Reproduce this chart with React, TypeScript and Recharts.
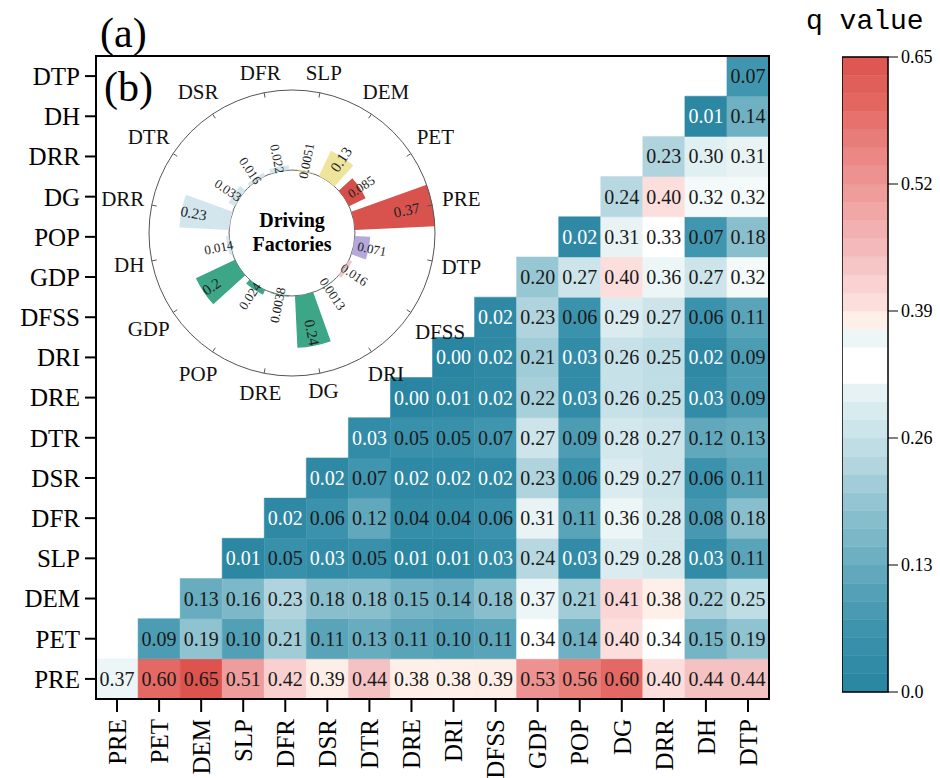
import React from 'react';
import {
  ScatterChart, Scatter, XAxis, YAxis, ReferenceArea,
  RadialBarChart, RadialBar, PolarAngleAxis, PolarRadiusAxis, PolarGrid, Cell, LabelList,
} from 'recharts';

const FONT = '"Liberation Serif", "Times New Roman", serif';
const MONO = '"Liberation Mono", "DejaVu Sans Mono", monospace';

// ---------- heatmap data ----------
const factors = ['PRE', 'PET', 'DEM', 'SLP', 'DFR', 'DSR', 'DTR', 'DRE', 'DRI', 'DFSS', 'GDP', 'POP', 'DG', 'DRR', 'DH', 'DTP'];

// each row starts at its own column (upper triangle), rows listed bottom-up
const rowPRE = [0.37, 0.60, 0.65, 0.51, 0.42, 0.39, 0.44, 0.38, 0.38, 0.39, 0.53, 0.56, 0.60, 0.40, 0.44, 0.44];
const rowPET = [0.09, 0.19, 0.10, 0.21, 0.11, 0.13, 0.11, 0.10, 0.11, 0.34, 0.14, 0.40, 0.34, 0.15, 0.19];
const rowDEM = [0.13, 0.16, 0.23, 0.18, 0.18, 0.15, 0.14, 0.18, 0.37, 0.21, 0.41, 0.38, 0.22, 0.25];
const rowSLP = [0.01, 0.05, 0.03, 0.05, 0.01, 0.01, 0.03, 0.24, 0.03, 0.29, 0.28, 0.03, 0.11];
const rowDFR = [0.02, 0.06, 0.12, 0.04, 0.04, 0.06, 0.31, 0.11, 0.36, 0.28, 0.08, 0.18];
const rowDSR = [0.02, 0.07, 0.02, 0.02, 0.02, 0.23, 0.06, 0.29, 0.27, 0.06, 0.11];
const rowDTR = [0.03, 0.05, 0.05, 0.07, 0.27, 0.09, 0.28, 0.27, 0.12, 0.13];
const rowDRE = [0.00, 0.01, 0.02, 0.22, 0.03, 0.26, 0.25, 0.03, 0.09];
const rowDRI = [0.00, 0.02, 0.21, 0.03, 0.26, 0.25, 0.02, 0.09];
const rowDFSS = [0.02, 0.23, 0.06, 0.29, 0.27, 0.06, 0.11];
const rowGDP = [0.20, 0.27, 0.40, 0.36, 0.27, 0.32];
const rowPOP = [0.02, 0.31, 0.33, 0.07, 0.18];
const rowDG = [0.24, 0.40, 0.32, 0.32];
const rowDRR = [0.23, 0.30, 0.31];
const rowDH = [0.01, 0.14];
const rowDTP = [0.07];
const matrixRows = [rowPRE, rowPET, rowDEM, rowSLP, rowDFR, rowDSR, rowDTR, rowDRE, rowDRI, rowDFSS, rowGDP, rowPOP, rowDG, rowDRR, rowDH, rowDTP];

// ---------- polar inset data (clockwise from top) ----------
const polarNames = ['SLP', 'DEM', 'PET', 'PRE', 'DTP', 'DFSS', 'DRI', 'DG', 'DRE', 'POP', 'GDP', 'DH', 'DRR', 'DTR', 'DSR', 'DFR'];
const polarValues = [0.0051, 0.13, 0.085, 0.37, 0.071, 0.016, 0.0013, 0.24, 0.0038, 0.024, 0.2, 0.014, 0.23, 0.033, 0.016, 0.022];
const polarLabels = ['0.0051', '0.13', '0.085', '0.37', '0.071', '0.016', '0.0013', '0.24', '0.0038', '0.024', '0.2', '0.014', '0.23', '0.033', '0.016', '0.022'];
const polarColors = ['#EEE49B', '#EEE49B', '#D44F4A', '#D8534E', '#B5A8DA', '#F3C6CD', '#3CA687', '#3CA687', '#3CA687', '#3CA687', '#3CA687', '#D3E6EE', '#D3E6EE', '#D3E6EE', '#D3E6EE', '#D3E6EE'];

// ---------- colour bar ----------
const cbTicks = [0, 0.13, 0.26, 0.39, 0.52, 0.65];
const cbMax = 0.65;
const cbBands = 35;

const colorStops: [number, string][] = [
  [0.0, '#2985A1'],
  [0.06, '#3B92AC'],
  [0.1, '#52A0B6'],
  [0.13, '#68ACC0'],
  [0.19, '#8FC3D0'],
  [0.23, '#B0D4DD'],
  [0.27, '#CDE5EA'],
  [0.3, '#E0EFF1'],
  [0.318, '#F0F7F7'],
  [0.325, '#FFFFFF'],
  [0.352, '#FFFFFF'],
  [0.36, '#EDF6F6'],
  [0.372, '#EDF6F6'],
  [0.376, '#FEF1EA'],
  [0.39, '#FEEEE8'],
  [0.4, '#FCDEDC'],
  [0.44, '#F5C2C3'],
  [0.52, '#EE9896'],
  [0.6, '#E46863'],
  [0.65, '#DD534E'],
];

function hexToRgb(h: string) {
  const n = parseInt(h.slice(1), 16);
  return [(n >> 16) & 255, (n >> 8) & 255, n & 255];
}
function qColor(v: number) {
  if (v <= colorStops[0][0]) return colorStops[0][1];
  for (let i = 1; i < colorStops.length; i++) {
    const [v1, c1] = colorStops[i];
    if (v <= v1) {
      const [v0, c0] = colorStops[i - 1];
      const t = (v - v0) / (v1 - v0);
      const a = hexToRgb(c0);
      const b = hexToRgb(c1);
      const m = a.map((x, k) => Math.round(x + (b[k] - x) * t));
      return `rgb(${m[0]},${m[1]},${m[2]})`;
    }
  }
  return colorStops[colorStops.length - 1][1];
}

// ---------- derived structures ----------
type CellDatum = { x: number; y: number; col: number; row: number; v: number };
const cellData: CellDatum[] = [];
matrixRows.forEach((vals, i) => {
  vals.forEach((v, k) => {
    const j = i + k;
    cellData.push({ x: j + 0.5, y: i + 0.5, col: j, row: i, v });
  });
});
const tickPos = factors.map((_, i) => i + 0.5);
const polarData = polarNames.map((name, i) => ({ name, value: polarValues[i], label: polarLabels[i] }));
const bandStep = cbMax / cbBands;
const bands = Array.from({ length: cbBands }, (_, k) => ({ x: 0.5, y: (k + 0.5) * bandStep, y1: k * bandStep, y2: (k + 1) * bandStep }));

// ---------- renderers ----------
const renderXTick = (props: any) => {
  const { x, y, payload } = props;
  return (
    <text x={x} y={y} transform={`rotate(-90 ${x} ${y})`} textAnchor="end" dy="0.35em"
      fontSize={25} fontFamily={FONT} fill="#000">
      {factors[Math.floor(payload.value)]}
    </text>
  );
};

const renderCellText = (props: any) => {
  const { cx, cy, payload } = props;
  const v = payload.v as number;
  return (
    <text x={cx} y={cy} textAnchor="middle" dominantBaseline="central" fontSize={20}
      fontFamily={FONT} fill={v < 0.035 ? '#ffffff' : '#1a1a1a'}>
      {v.toFixed(2)}
    </text>
  );
};

const P_SIZE = 380;
const P_INNER = 63;
const P_OUTER = 143;
const HALF_BAND = 360 / polarNames.length / 2;

const renderAngleTick = (props: any) => {
  const { payload } = props;
  const cx = props.cx ?? P_SIZE / 2;
  const cy = props.cy ?? P_SIZE / 2;
  const r = props.radius ?? P_OUTER;
  // align the tick with the centre of its bar sector
  const a = ((payload.coordinate + HALF_BAND) * Math.PI) / 180;
  const c = Math.cos(a);
  const s = -Math.sin(a);
  const name = String(payload.value);
  const halfW = name.length * 6.8;
  const lr = r + 8 + halfW * Math.abs(c) + 8 * Math.abs(s);
  return (
    <g>
      <line x1={cx + r * c} y1={cy + r * s} x2={cx + (r - 5) * c} y2={cy + (r - 5) * s} stroke="#555" strokeWidth={1} />
      <text x={cx + lr * c} y={cy + lr * s} textAnchor="middle" dominantBaseline="central"
        fontSize={21} fontFamily={FONT} fill="#111">
        {name}
      </text>
    </g>
  );
};

const renderPolarLabel = (props: any) => {
  const { viewBox, index } = props;
  if (!viewBox || viewBox.cx === undefined) return null;
  const { cx, cy, innerRadius, outerRadius, startAngle, endAngle } = viewBox;
  const mid = (startAngle + endAngle) / 2;
  const r = innerRadius + 10 + 0.55 * (outerRadius - innerRadius);
  const a = (mid * Math.PI) / 180;
  const x = cx + r * Math.cos(a);
  const y = cy - r * Math.sin(a);
  let compass = (90 - mid) % 360;
  if (compass < 0) compass += 360;
  const rot = compass < 180 ? compass - 90 : compass - 270;
  const big = polarValues[index] >= 0.1;
  return (
    <text x={x} y={y} transform={`rotate(${rot} ${x} ${y})`} textAnchor="middle" dominantBaseline="central"
      fontSize={big ? 15 : 13} fontFamily={FONT} fill="#222">
      {polarLabels[index]}
    </text>
  );
};

export default function App() {
  return (
    <div style={{ position: 'absolute', left: 0, top: 0, width: 940, height: 778, overflow: 'hidden', background: '#fff' }}>
      {/* (a) heatmap */}
      <div style={{ position: 'absolute', left: 0, top: 0 }}>
        <ScatterChart width={800} height={778} margin={{ top: 56, right: 31, bottom: 0, left: 0 }}>
          <XAxis type="number" dataKey="x" domain={[0, 16]} ticks={tickPos} interval={0} tick={renderXTick}
            tickSize={13} tickMargin={7} height={79} allowDataOverflow
            axisLine={{ stroke: '#000', strokeWidth: 2 }} tickLine={{ stroke: '#000', strokeWidth: 2 }} />
          <YAxis type="number" dataKey="y" domain={[0, 16]} ticks={tickPos} interval={0} width={96}
            tickFormatter={(t: number) => factors[Math.floor(t)]} tickSize={11} tickMargin={5} allowDataOverflow
            tick={{ fontSize: 25, fill: '#000', fontFamily: FONT }}
            axisLine={{ stroke: '#000', strokeWidth: 2 }} tickLine={{ stroke: '#000', strokeWidth: 2 }} />
          {cellData.map((c) => (
            <ReferenceArea key={`c-${c.row}-${c.col}`} x1={c.col} x2={c.col + 1} y1={c.row} y2={c.row + 1}
              fill={qColor(c.v)} fillOpacity={1} stroke={qColor(c.v)} strokeWidth={0.5} />
          ))}
          <Scatter data={cellData} isAnimationActive={false} shape={renderCellText} />
          <ReferenceArea x1={0} x2={16} y1={0} y2={16} fill="none" fillOpacity={0} stroke="#000" strokeWidth={2} />
        </ScatterChart>
      </div>

      {/* colour bar */}
      <div style={{ position: 'absolute', left: 842, top: 47 }}>
        <ScatterChart width={98} height={655} margin={{ top: 10, right: 0, bottom: 10, left: 0 }}>
          <XAxis type="number" dataKey="x" domain={[0, 1]} hide allowDataOverflow />
          <YAxis type="number" dataKey="y" orientation="right" domain={[0, cbMax]} ticks={cbTicks} interval={0}
            width={52} axisLine={false} tickSize={10} tickMargin={3} allowDataOverflow
            tickLine={{ stroke: '#000', strokeWidth: 1 }}
            tickFormatter={(t: number) => (t === 0 ? '0.0' : t.toFixed(2))}
            tick={{ fontSize: 18, fill: '#000', fontFamily: FONT }} />
          {bands.map((b, k) => (
            <ReferenceArea key={`b-${k}`} x1={0} x2={1} y1={b.y1} y2={b.y2}
              fill={qColor(b.y)} fillOpacity={1} stroke={qColor(b.y)} strokeWidth={0.5} />
          ))}
          <Scatter data={bands} isAnimationActive={false} shape={() => <g />} />
          <ReferenceArea x1={0} x2={1} y1={0} y2={cbMax} fill="none" fillOpacity={0} stroke="#000" strokeWidth={1.5} />
        </ScatterChart>
      </div>

      {/* (b) polar inset */}
      <div style={{ position: 'absolute', left: 292 - P_SIZE / 2, top: 233 - P_SIZE / 2 }}>
        <RadialBarChart width={P_SIZE} height={P_SIZE} data={polarData} layout="centric"
          startAngle={67.5} endAngle={-292.5} innerRadius={P_INNER} outerRadius={P_OUTER} barCategoryGap="12%"
          margin={{ top: 0, right: 0, bottom: 0, left: 0 }}>
          <PolarGrid gridType="circle" radialLines={false} polarRadius={[P_INNER]} stroke="#666" />
          <PolarAngleAxis type="category" dataKey="name" axisLineType="circle" axisLine={{ stroke: '#555' }}
            tickLine={false} tick={renderAngleTick} />
          <PolarRadiusAxis type="number" domain={[0, 0.37]} tick={false} axisLine={false} />
          <RadialBar dataKey="value" isAnimationActive={false}>
            {polarData.map((d, i) => (
              <Cell key={d.name} fill={polarColors[i]} />
            ))}
            <LabelList dataKey="value" content={renderPolarLabel} />
          </RadialBar>
        </RadialBarChart>
      </div>

      {/* texts */}
      <div style={{ position: 'absolute', left: 100, top: 12, fontFamily: FONT, fontSize: 42, lineHeight: 1 }}>(a)</div>
      <div style={{ position: 'absolute', left: 104, top: 66, fontFamily: FONT, fontSize: 42, lineHeight: 1 }}>(b)</div>
      <div style={{ position: 'absolute', left: 192, top: 208, width: 200, textAlign: 'center', fontFamily: FONT,
        fontSize: 20, fontWeight: 'bold', lineHeight: '24px' }}>
        Driving<br />Factories
      </div>
      <div style={{ position: 'absolute', left: 806, top: 8, fontFamily: MONO, fontSize: 28, lineHeight: 1 }}>q value</div>
    </div>
  );
}
